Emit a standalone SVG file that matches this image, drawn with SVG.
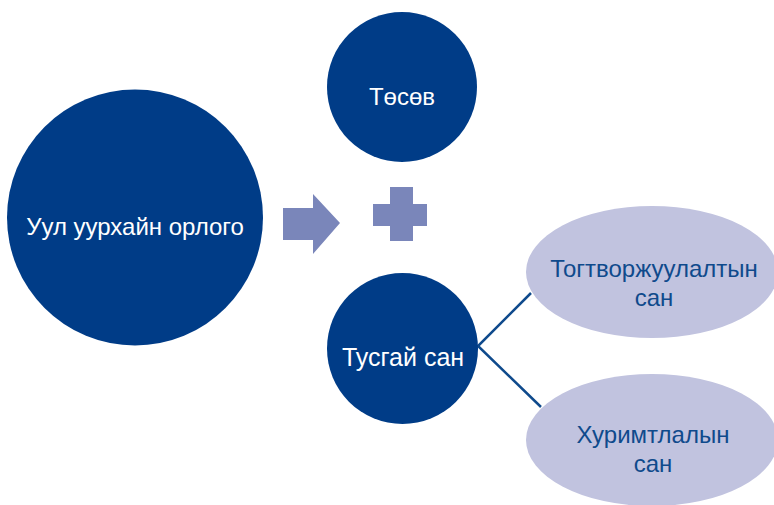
<svg xmlns="http://www.w3.org/2000/svg" width="774" height="505" viewBox="0 0 774 505">
<style>
.dark{fill:#003C87}
.light{fill:#C1C3DF}
.sym{fill:#7A86BA}
.wt{fill:#FFFFFF;font-family:"Liberation Sans",Arial,sans-serif;font-size:24px;text-anchor:middle}
.bt{fill:#0F4A8C;font-family:"Liberation Sans",Arial,sans-serif;font-size:24px;text-anchor:middle}
.conn{stroke:#0F4A8C;stroke-width:2.5;fill:none}
</style>
<rect width="774" height="505" fill="#FFFFFF"/>
<g id="connectors">
<polyline class="conn" points="531,293 478,346 541,407"/>
</g>
<g id="income">
<circle class="dark" cx="135" cy="217.5" r="128"/>
<text class="wt" x="135" y="235">Уул уурхайн орлого</text>
</g>
<g id="arrow">
<polygon class="sym" points="283,208 313,208 313,194 340,223 313,254 313,240 283,240"/>
</g>
<g id="plus">
<polygon class="sym" points="390,187 413,187 413,204 427,204 427,226 413,226 413,241 390,241 390,226 373,226 373,204 390,204"/>
</g>
<g id="budget">
<circle class="dark" cx="402" cy="87" r="75"/>
<text class="wt" x="402" y="105">Төсөв</text>
</g>
<g id="special">
<circle class="dark" cx="402.5" cy="348.5" r="75.5"/>
<text class="wt" x="403" y="366" style="font-size:25px">Тусгай сан</text>
</g>
<g id="stabilization">
<ellipse class="light" cx="652" cy="272" rx="126" ry="66"/>
<text class="bt" x="654" y="277">Тогтворжуулалтын</text>
<text class="bt" x="654" y="306">сан</text>
</g>
<g id="savings">
<ellipse class="light" cx="652" cy="440" rx="126" ry="66"/>
<text class="bt" x="653" y="443">Хуримтлалын</text>
<text class="bt" x="653" y="472">сан</text>
</g>
</svg>
